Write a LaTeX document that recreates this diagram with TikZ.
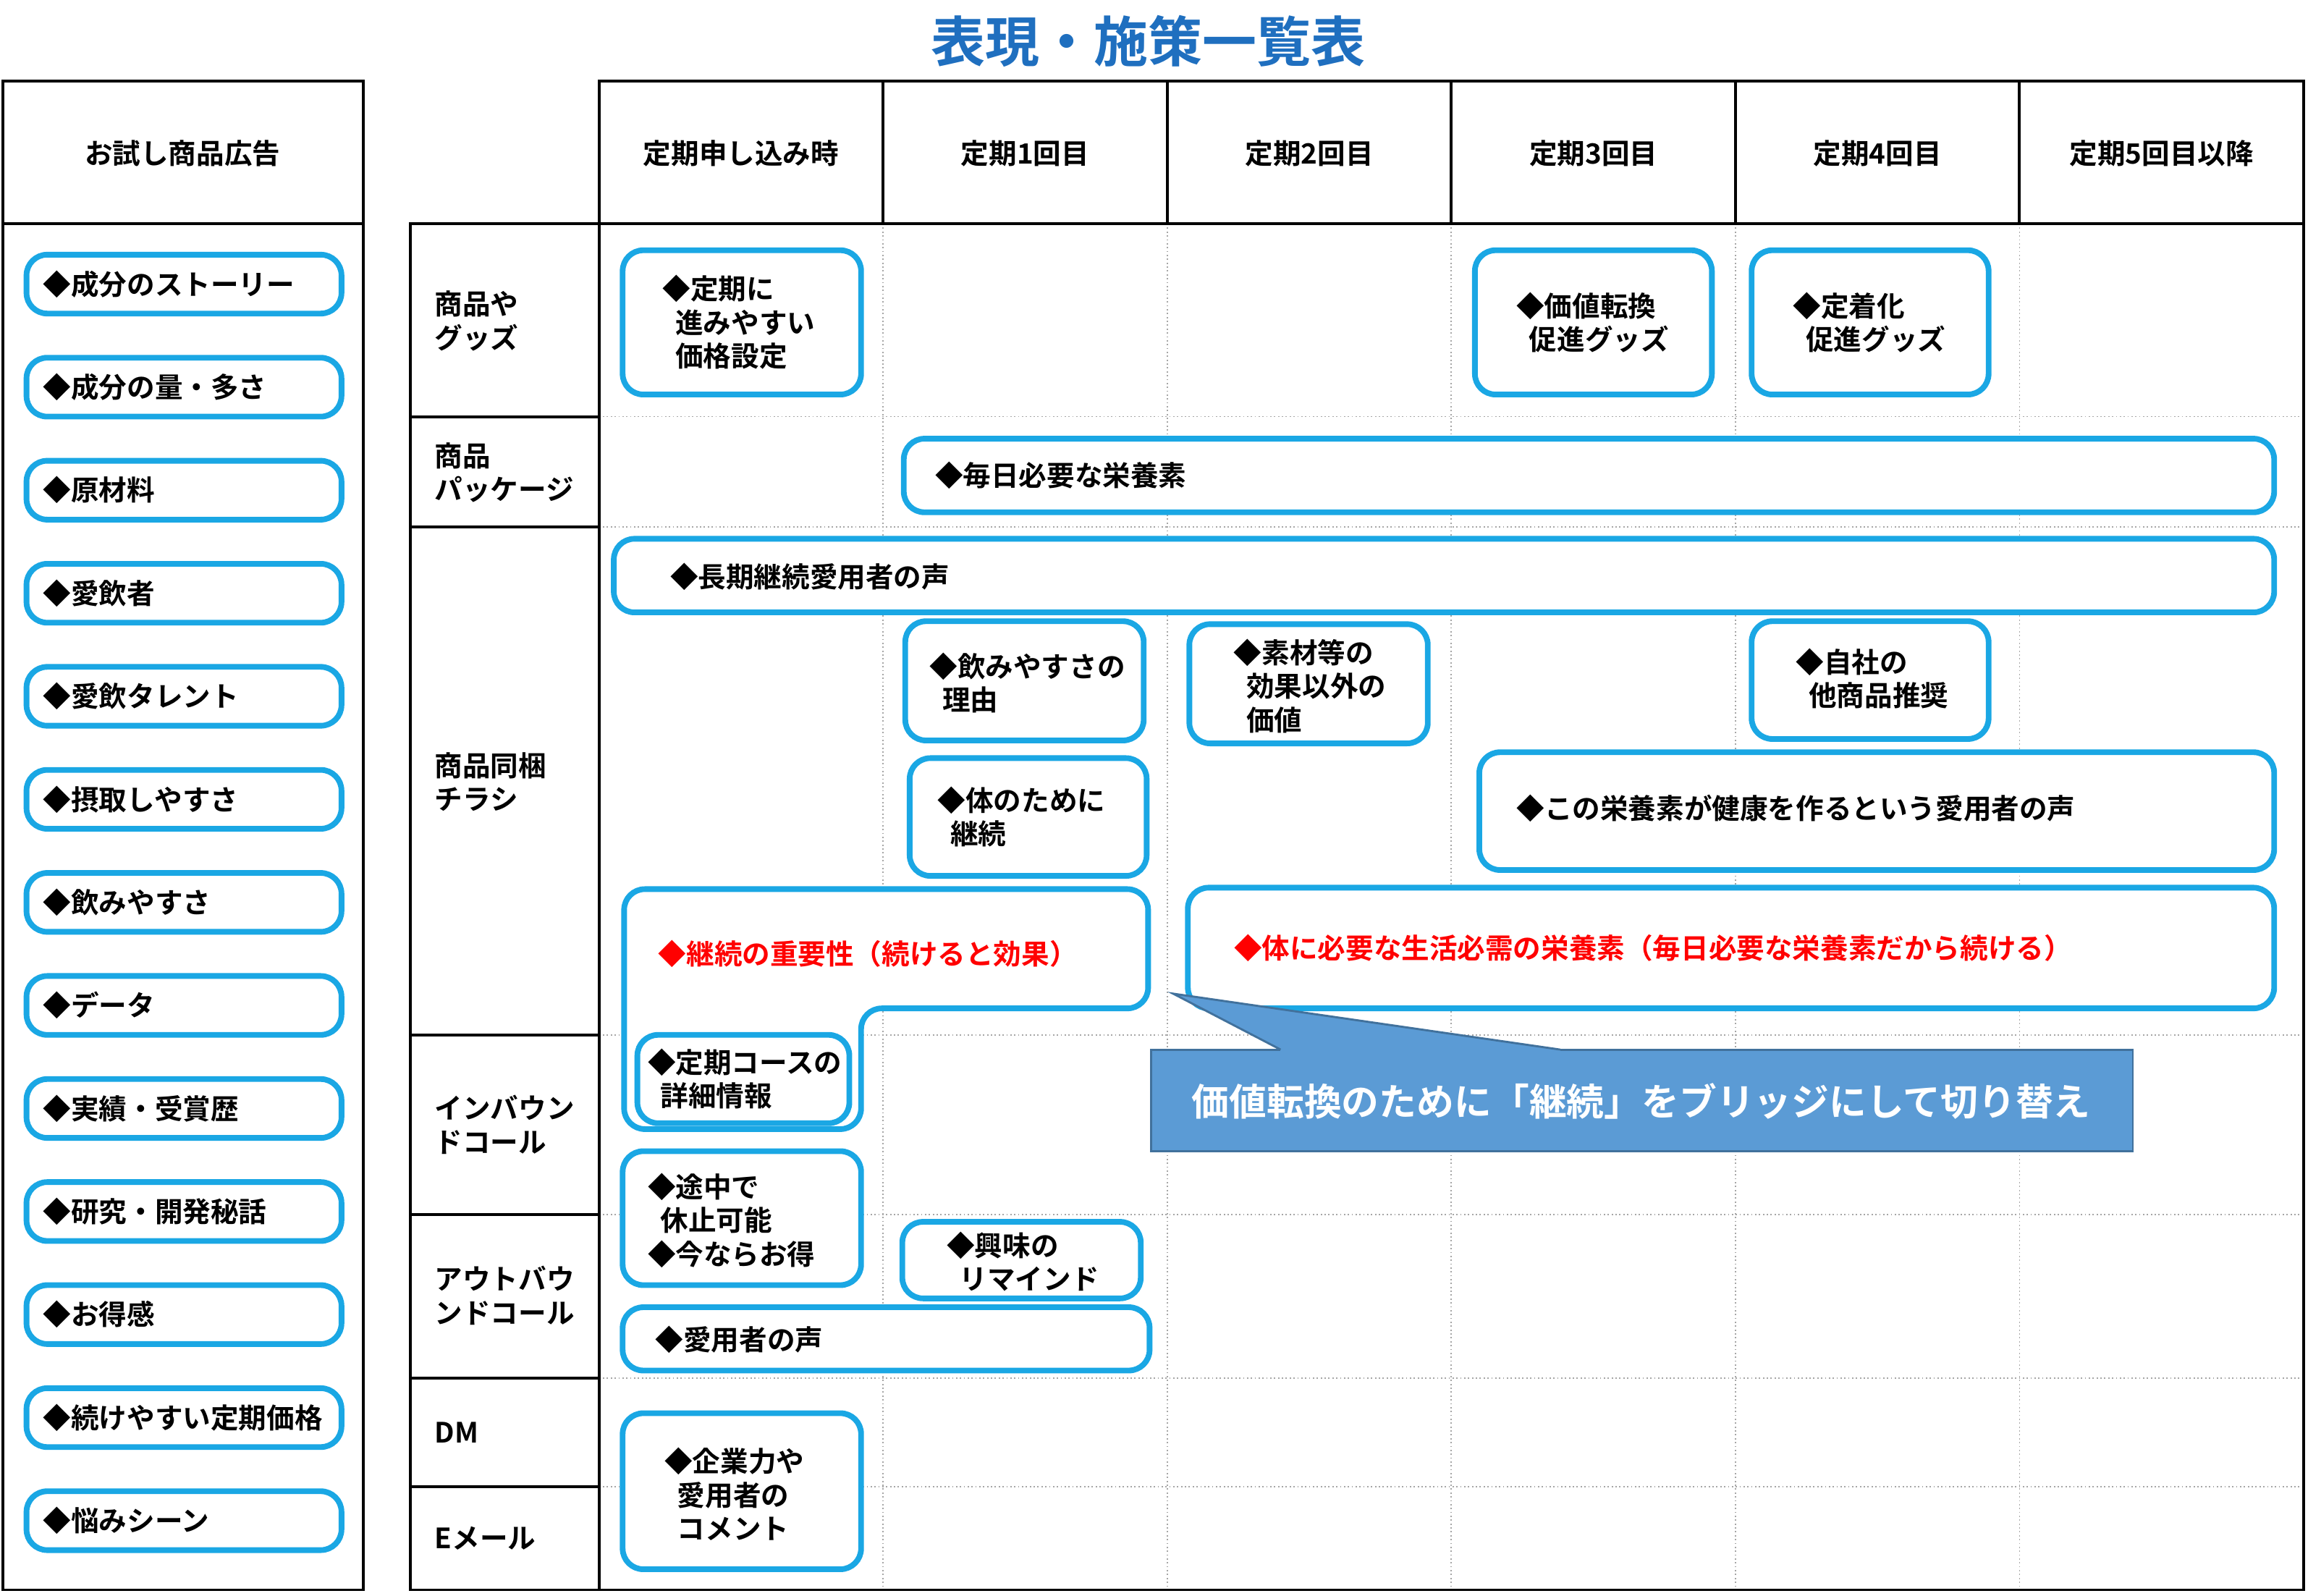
\documentclass[tikz,border=0pt]{standalone}
\usepackage{fontspec}
\setmainfont{Noto Sans CJK JP Bold}
\usetikzlibrary{positioning}
\definecolor{boxcyan}{HTML}{1AA7E4}
\definecolor{titleblue}{HTML}{1F6FBF}
\definecolor{callfill}{HTML}{5B9BD5}
\definecolor{callline}{HTML}{41719C}
\tikzset{
  ibox/.style={draw=boxcyan, line width=2.2pt, rounded corners=8pt, fill=white},
  itext/.style={align=left, inner sep=0pt, font=\fontsize{10.8}{13}\selectfont},
  rtext/.style={itext, text=red},
  head/.style={font=\fontsize{10.8}{12}\selectfont},
  rowlab/.style={anchor=west, align=left, inner sep=0pt, font=\fontsize{10.8}{13}\selectfont},
  gridline/.style={densely dotted, gray!70, line width=0.5pt},
  frame/.style={line width=1.1pt}
}
\begin{document}
\begin{tikzpicture}[x=0.02cm, y=-0.02cm]
    \useasboundingbox (0,0) rectangle (1568,1084);
    % Title
    \node[text=titleblue, font=\fontsize{21}{24}\selectfont] (title) at (780,28) {表現・施策一覧表};

    % Left column
    \draw[frame] (2,55) rectangle (247,1080);
    \draw[frame] (2,152) -- (247,152);
    \node[head] (trial) at (124,104) {お試し商品広告};
    \foreach \t [count=\i] in {成分のストーリー,成分の量・多さ,原材料,愛飲者,愛飲タレント,摂取しやすさ,飲みやすさ,データ,実績・受賞歴,研究・開発秘話,お得感,続けやすい定期価格,悩みシーン}{
      \draw[ibox] (18,{103+70*\i}) rectangle (232,{143+70*\i});
      \node[itext, anchor=west] (ad\i) at (29,{123+70*\i}) {◆\t};
    }

    % Grid
    \foreach \x in {600,793,986,1179,1372}
      \draw[gridline] (\x,152) -- (\x,1080);
    \foreach \y in {283,358,703,825,936,1010}
      \draw[gridline] (407,\y) -- (1565,\y);
    \draw[frame] (407,55) rectangle (1565,1080);
    \draw[frame] (407,152) -- (1565,152);
    \foreach \x in {600,793,986,1179,1372}
      \draw[frame] (\x,55) -- (\x,152);
    \draw[frame] (279,152) rectangle (407,1080);
    \foreach \y in {283,358,703,825,936,1010}
      \draw[frame] (279,\y) -- (407,\y);

    % Headers
    \foreach \t [count=\i] in {定期申し込み時,定期1回目,定期2回目,定期3回目,定期4回目,定期5回目以降}
      \node[head] (col\i) at ({310.5+193*\i},104) {\t};
    \node[rowlab] (goods) at (295,218) {商品や\\グッズ};
    \node[rowlab] (pack) at (295,321) {商品\\パッケージ};
    \node[rowlab] (flyer) at (295,531) {商品同梱\\チラシ};
    \node[rowlab] (inbound) at (295,764) {インバウン\\ドコール};
    \node[rowlab] (outbound) at (295,880) {アウトバウ\\ンドコール};
    \node[rowlab] (dm) at (295,973) {DM};
    \node[rowlab] (mail) at (295,1045) {Eメール};

    % Measures
    \draw[ibox] (423,170) rectangle (585,268);
    \node[itext] (price) at (502,219) {◆定期に\\\ \ 進みやすい\\\ \ 価格設定};
    \draw[ibox] (1002,170) rectangle (1163,268);
    \node[itext] (vgoods) at (1082,219) {◆価値転換\\\ \ 促進グッズ};
    \draw[ibox] (1190,170) rectangle (1351,268);
    \node[itext] (fgoods) at (1270,219) {◆定着化\\\ \ 促進グッズ};
    \draw[ibox] (614,298) rectangle (1545,348);
    \node[itext, anchor=west] (daily) at (635,323) {◆毎日必要な栄養素};
    \draw[ibox] (417,366) rectangle (1545,416);
    \node[itext, anchor=west] (voice) at (455,392) {◆長期継続愛用者の声};
    \draw[ibox] (615,422) rectangle (777,503);
    \node[itext] (reason) at (698,464) {◆飲みやすさの\\\ \ 理由};
    \draw[ibox] (808,424) rectangle (970,505);
    \node[itext] (value) at (890,466) {◆素材等の\\\ \ 効果以外の\\\ \ 価値};
    \draw[ibox] (1190,422) rectangle (1351,502);
    \node[itext] (other) at (1272,461) {◆自社の\\\ \ 他商品推奨};
    \draw[ibox] (618,515) rectangle (779,595);
    \node[itext] (body) at (694,555) {◆体のために\\\ \ 継続};
    \draw[ibox] (1005,511) rectangle (1545,591);
    \node[itext, anchor=west] (health) at (1030,549) {◆この栄養素が健康を作るという愛用者の声};
    \draw[ibox] (424,604) -- (780,604) -- (780,685) -- (585,685) -- (585,767) -- (424,767) -- cycle;
    \node[rtext, anchor=west] (keep) at (447,648) {◆継続の重要性（続けると効果）};
    \draw[ibox] (433,703) rectangle (577,763);
    \node[itext] (course) at (506,733) {◆定期コースの\\\ \ 詳細情報};
    \draw[ibox] (807,603) rectangle (1545,685);
    \node[rtext, anchor=west] (need) at (838,644) {◆体に必要な生活必需の栄養素（毎日必要な栄養素だから続ける）};
    \draw[ibox] (423,782) rectangle (585,873);
    \node[itext] (pause) at (497,829) {◆途中で\\\ \ 休止可能\\◆今ならお得};
    \draw[ibox] (613,830) rectangle (775,882);
    \node[itext] (remind) at (695,857) {◆興味の\\\ \ リマインド};
    \draw[ibox] (423,888) rectangle (781,931);
    \node[itext, anchor=west] (uvoice) at (445,910) {◆愛用者の声};
    \draw[ibox] (423,960) rectangle (585,1066);
    \node[itext] (corp) at (499,1015) {◆企業力や\\\ \ 愛用者の\\\ \ コメント};

    % Callout
    \coordinate (tip) at (797,675);
    \fill[callfill] (782,713) rectangle (1449,782);
    \filldraw[fill=callfill, draw=callline, line width=0.8pt] (870,713) -- (tip) -- (1060,713);
    \draw[callline, line width=0.8pt] (1060,713) -- (1449,713) -- (1449,782) -- (782,782) -- (782,713) -- (870,713);
    \node[text=white, font=\fontsize{14.5}{16}\selectfont] (bridge) at (1115,748) {価値転換のために「継続」をブリッジにして切り替え};
\end{tikzpicture}
\end{document}
